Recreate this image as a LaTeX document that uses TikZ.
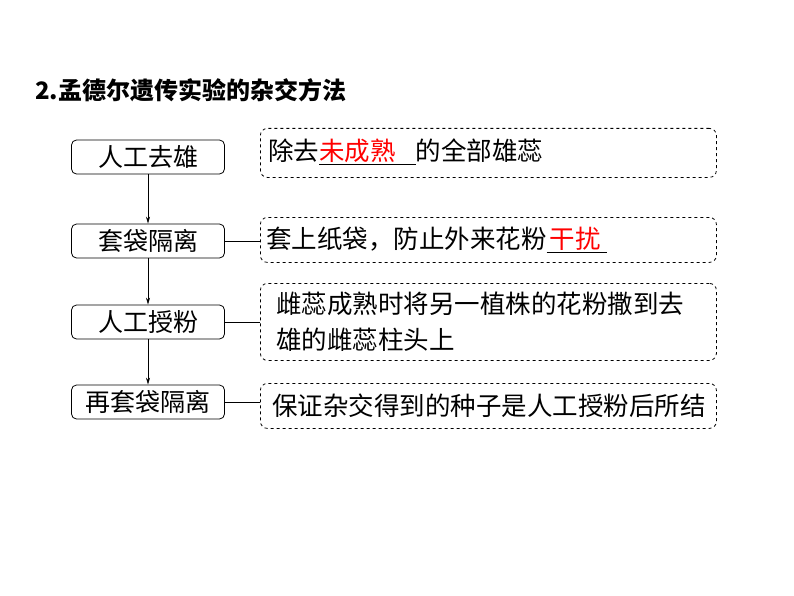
\documentclass[tikz,border=0pt]{standalone}
\usepackage{fontspec}
\usetikzlibrary{arrows.meta}
\setmainfont{Liberation Serif}
\newfontfamily\cjk{Noto Sans CJK SC}
\begin{document}
\begin{tikzpicture}[x=1pt,y=-1pt,
  stepbox/.style={draw,rounded corners=5pt,line width=0.8pt,minimum width=153pt,minimum height=34pt,inner sep=0pt,font=\cjk\fontsize{25}{28}\selectfont},
  notebox/.style={draw,dashed,rounded corners=7pt,line width=0.8pt,anchor=north west,inner sep=0pt},
  notetext/.style={font=\cjk\fontsize{25.5}{36}\selectfont,inner sep=0pt,align=left},
  arr/.style={-{Stealth[length=7pt,width=4pt]},line width=0.6pt},
  con/.style={line width=0.6pt}]
\useasboundingbox (0,0) rectangle (794,596);
\node[anchor=west,inner sep=0pt,font=\bfseries\cjk\fontsize{24}{26}\selectfont] (title) at (35,90) {2.孟德尔遗传实验的杂交方法};
\node[stepbox] (s1) at (148,157) {人工去雄};
\node[stepbox] (s2) at (148,241) {套袋隔离};
\node[stepbox] (s3) at (148,322) {人工授粉};
\node[stepbox] (s4) at (148,402) {再套袋隔离};
\draw[arr] (s1) -- (s2);
\draw[arr] (s2) -- (s3);
\draw[arr] (s3) -- (s4);
\node[notebox,minimum width=456pt,minimum height=49pt] (n1) at (260,128) {};
\node[notetext,anchor=west] (t1) at (268,152) {除去\underline{\textcolor{red}{未成熟}\hspace{20pt}}的全部雄蕊};
\node[notebox,minimum width=456pt,minimum height=45pt] (n2) at (260,217) {};
\node[notetext,anchor=west] (t2) at (266,240) {套上纸袋，防止外来花粉\underline{\hspace{3pt}\textcolor{red}{干扰}\hspace{6pt}}};
\node[notebox,minimum width=456pt,minimum height=77pt] (n3) at (260,283) {};
\node[notetext,anchor=north west] (t3) at (276,292) {雌蕊成熟时将另一植株的花粉撒到去\\雄的雌蕊柱头上};
\node[notebox,minimum width=456pt,minimum height=45pt] (n4) at (260,383) {};
\node[notetext,anchor=west] (t4) at (272,406) {保证杂交得到的种子是人工授粉后所结};
\draw[con] (s2.east) -- (s2.east -| n2.west);
\draw[con] (s3.east) -- (s3.east -| n3.west);
\draw[con] (s4.east) -- (s4.east -| n4.west);
\end{tikzpicture}
\end{document}
